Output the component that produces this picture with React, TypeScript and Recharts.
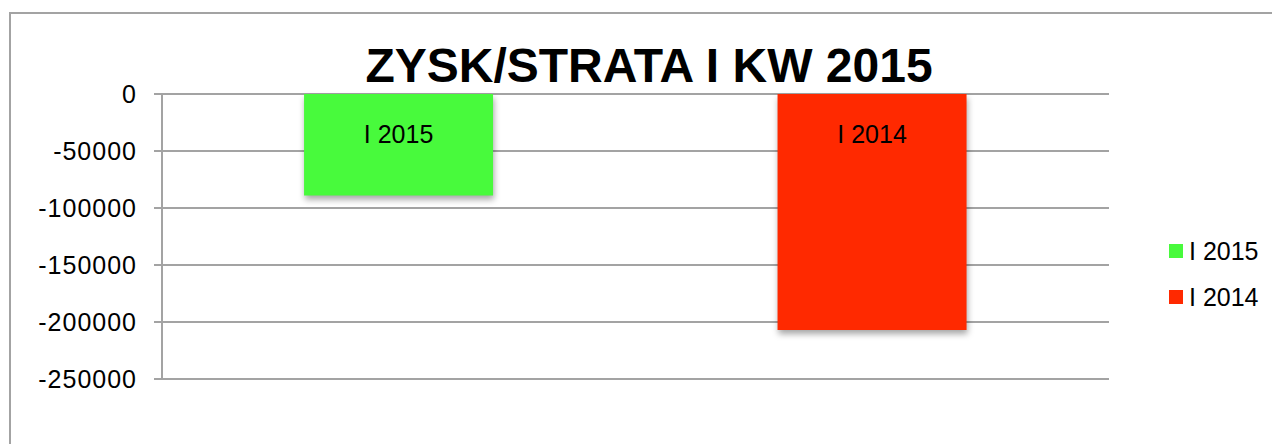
import React from "react";
import {
  BarChart,
  Bar,
  XAxis,
  YAxis,
  CartesianGrid,
  Cell,
  LabelList,
} from "recharts";

const categories = ["I 2015", "I 2014"];
const values = [-89000, -207000];
const colors = ["#48FA3C", "#FF2900"];
const yTicks = [0, -50000, -100000, -150000, -200000, -250000];
const title = "ZYSK/STRATA I KW 2015";

const data = categories.map((name, i) => ({ name, value: values[i], pos: i + 0.5 }));
const boundaryTicks = categories.map((_, i) => i).concat([categories.length]);

const FONT = "'Liberation Sans', Arial, Helvetica, sans-serif";
const GRID = "#a3a3a3";

const BarLabel = (props: any) => {
  const { x, y, width, height, value } = props;
  const top = Math.min(y, y + height);
  return (
    <text
      x={x + width / 2}
      y={top + 40}
      textAnchor="middle"
      dominantBaseline="central"
      fontSize={25}
      fontFamily={FONT}
      fill="#000"
    >
      {value}
    </text>
  );
};

const LegendBox = () => (
  <div
    style={{
      position: "absolute",
      left: 1161,
      top: 220,
      width: 110,
      fontFamily: FONT,
      fontSize: 25,
      color: "#000",
    }}
  >
    {categories.map((c, i) => (
      <div
        key={c}
        style={{ display: "flex", alignItems: "center", height: 46, lineHeight: "46px" }}
      >
        <span
          style={{
            display: "inline-block",
            width: 14,
            height: 14,
            background: colors[i],
            marginRight: 6,
          }}
        />
        <span>{c}</span>
      </div>
    ))}
  </div>
);

export default function App() {
  return (
    <div
      style={{
        position: "relative",
        width: 1272,
        height: 436,
        overflow: "hidden",
        background: "#fff",
      }}
    >
      <BarChart
        width={1272}
        height={436}
        data={data}
        margin={{ top: 86, right: 171, bottom: 65, left: 0 }}
        barCategoryGap="30%"
      >
        <CartesianGrid
          vertical={false}
          stroke={GRID}
          strokeWidth={2}
          horizontalValues={yTicks}
        />
        <XAxis dataKey="name" orientation="top" hide />
        <XAxis
          xAxisId="b"
          type="number"
          dataKey="pos"
          domain={[0, categories.length]}
          ticks={boundaryTicks}
          orientation="top"
          height={0}
          tickSize={-8}
          tick={() => null as any}
          axisLine={{ stroke: GRID, strokeWidth: 2 }}
          tickLine={{ stroke: GRID, strokeWidth: 2 }}
          allowDataOverflow
        />
        <YAxis
          type="number"
          domain={[-250000, 0]}
          ticks={yTicks}
          width={154}
          tickSize={8}
          tickMargin={17}
          interval={0}
          axisLine={{ stroke: GRID, strokeWidth: 2 }}
          tickLine={{ stroke: GRID, strokeWidth: 2 }}
          tick={{ fill: "#000", fontSize: 25, fontFamily: FONT, letterSpacing: 1 }}
        />
        <Bar dataKey="value" isAnimationActive={false}>
          {data.map((d, i) => (
            <Cell
              key={d.name}
              fill={colors[i]}
              style={{ filter: "drop-shadow(1px 4px 3px rgba(0,0,0,0.35))" }}
            />
          ))}
          <LabelList dataKey="name" content={<BarLabel />} />
        </Bar>
      </BarChart>
      <LegendBox />
      <svg
        width={1272}
        height={436}
        style={{ position: "absolute", left: 0, top: 0, pointerEvents: "none" }}
      >
        <rect x={2} y={5} width={2000} height={2000} fill="none" stroke={GRID} strokeWidth={2} />
        <text
          x={641}
          y={74}
          textAnchor="middle"
          fontSize={48}
          fontWeight="bold"
          fontFamily={FONT}
          fill="#000"
        >
          {title}
        </text>
      </svg>
    </div>
  );
}
